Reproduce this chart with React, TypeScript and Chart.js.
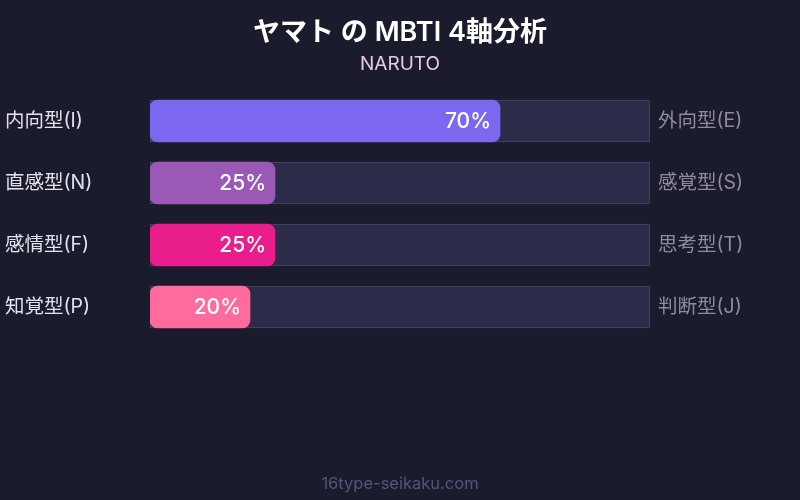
import { useEffect, useRef } from "react"
import { Chart, registerables } from "chart.js"

Chart.register(...registerables)

const leftLabels = ["内向型(I)", "直感型(N)", "感情型(F)", "知覚型(P)"]
const rightLabels = ["外向型(E)", "感覚型(S)", "思考型(T)", "判断型(J)"]
const values = [70, 25, 25, 20]
const trackValues = [100, 100, 100, 100]
const barColors = ["#7B68EE", "#9B59B6", "#E91E8C", "#FF6B9D"]

const FONT = "Inter, 'Noto Sans CJK JP', sans-serif"
const BG = "#1b1b2e"

const textPlugin = {
  id: "textPlugin",
  beforeDraw(chart: any) {
    const ctx = chart.ctx
    ctx.save()
    ctx.fillStyle = BG
    ctx.fillRect(0, 0, chart.width, chart.height)
    ctx.restore()
  },
  afterDraw(chart: any) {
    const ctx = chart.ctx
    ctx.save()
    ctx.textAlign = "center"
    ctx.textBaseline = "middle"
    ctx.fillStyle = "#ffffff"
    ctx.font = `600 27px ${FONT}`
    ctx.fillText("ヤマト の MBTI 4軸分析", 400, 33)
    ctx.fillStyle = "#e8c8e8"
    ctx.font = `19px ${FONT}`
    ctx.fillText("NARUTO", 400, 64)
    ctx.fillStyle = "#55557a"
    ctx.font = `16.5px ${FONT}`
    ctx.fillText("16type-seikaku.com", 400, 484)

    // value labels inside bars
    const meta = chart.getDatasetMeta(1)
    ctx.textAlign = "right"
    ctx.fillStyle = "#ffffff"
    ctx.font = `500 21px ${FONT}`
    meta.data.forEach((el: any, i: number) => {
      ctx.fillText(`${values[i]}%`, el.x - 9, el.y + 1)
    })
    ctx.restore()
  },
}

export default function App() {
  const chartRef = useRef<HTMLCanvasElement>(null)
  const chartInstance = useRef<Chart | null>(null)

  useEffect(() => {
    document.body.style.margin = "0"
    document.body.style.background = BG
    if (!chartRef.current) return
    if (chartInstance.current) chartInstance.current.destroy()
    const ctx = chartRef.current.getContext("2d")
    if (!ctx) return

    const config: any = {
      type: "bar",
      data: {
        labels: leftLabels,
        datasets: [
          {
            data: trackValues,
            backgroundColor: "#2d2b4a",
            borderColor: "#474766",
            borderWidth: 1,
            borderSkipped: false,
            barThickness: 42,
            grouped: false,
            order: 2,
          },
          {
            data: values,
            backgroundColor: barColors,
            borderWidth: 0,
            borderRadius: 8,
            borderSkipped: false,
            barThickness: 42,
            grouped: false,
            order: 1,
          },
        ],
      },
      options: {
        indexAxis: "y",
        animation: false,
        responsive: false,
        layout: { padding: { top: 90, bottom: 162, left: 5, right: 0 } },
        plugins: {
          legend: { display: false },
          title: { display: false },
          tooltip: { enabled: false },
        },
        scales: {
          x: {
            min: 0,
            max: 100,
            display: false,
          },
          y: {
            position: "left",
            border: { display: false },
            grid: { display: false, drawTicks: false },
            ticks: {
              crossAlign: "far",
              color: "#e2e2ea",
              font: { family: FONT, size: 19.5 },
            },
            afterFit(scale: any) {
              scale.width = 145
            },
          },
          y2: {
            type: "category",
            position: "right",
            labels: rightLabels,
            border: { display: false },
            grid: { display: false, drawTicks: false },
            ticks: {
              padding: 8,
              color: "#8c8c9c",
              font: { family: FONT, size: 19.5 },
            },
            afterFit(scale: any) {
              scale.width = 150
            },
          },
        },
      },
      plugins: [textPlugin],
    }

    chartInstance.current = new Chart(ctx, config)
    return () => {
      if (chartInstance.current) chartInstance.current.destroy()
    }
  }, [])

  return (
    <div style={{ width: 800, height: 500 }}>
      <canvas ref={chartRef} width={800} height={500} />
    </div>
  )
}
